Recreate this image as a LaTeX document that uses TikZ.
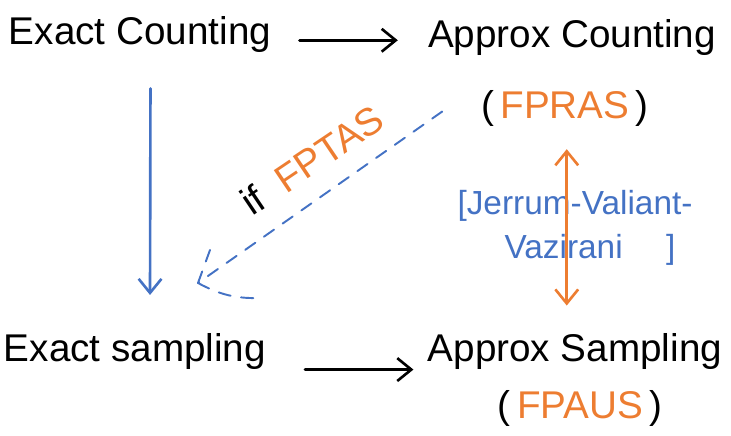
\documentclass[tikz,border=0pt]{standalone}
\usepackage{fontspec}
\setmainfont{Liberation Sans}
\usetikzlibrary{arrows.meta}
\definecolor{penorange}{RGB}{237,125,49}
\definecolor{penblue}{RGB}{68,114,196}

\begin{document}
\begin{tikzpicture}[x=0.02cm,y=-0.02cm,
  hand/.style={font=\fontsize{22}{26}\selectfont,inner sep=0pt},
  note/.style={font=\fontsize{19}{23}\selectfont,inner sep=0pt,text=penblue},
  pen/.style={line width=1.5pt,line cap=round,line join=round},
  arr/.style={pen,-{Straight Barb[length=8pt,width=13pt]}},
  dblarr/.style={pen,{Straight Barb[length=8pt,width=13pt]}-{Straight Barb[length=8pt,width=13pt]}},
  dashpen/.style={pen,penblue,line width=1.1pt,dash pattern=on 7pt off 6pt}]
\useasboundingbox (0,0) rectangle (731,436);
\node[hand] (ec) at (140,35) {Exact Counting};
\node[hand] (ac) at (572,38) {Approx Counting};
\node[hand] (fpras) at (565,108) {(\,{\color{penorange}FPRAS}\,)};
\node[hand] (es) at (135,352) {Exact sampling};
\node[hand] (as) at (575,352) {Approx Sampling};
\node[hand] (fpaus) at (580,408) {(\,{\color{penorange}FPAUS}\,)};
\node[hand,rotate=34] (iff) at (312,160) {if\ \ {\color{penorange}FPTAS}};
\node[note] (jv) at (575,206) {[Jerrum-Valiant-};
\node[note] (vz) at (590,250) {Vazirani\hspace{1.3em}]};
\coordinate (dtip) at (198,283);
\draw[arr,shorten <=16pt,shorten >=17pt] ([yshift=-3pt]ec.east) -- ([yshift=-3pt]ec.east -| ac.west);
\draw[arr,shorten <=22pt,shorten >=8pt] ([yshift=-10pt]es.east) -- ([yshift=-10pt]es.east -| as.west);
\draw[arr,penblue,shorten <=20pt,shorten >=22pt] ([xshift=6pt]ec.south) -- ([xshift=8.5pt]es.north);
\draw[dblarr,penorange,shorten <=13pt,shorten >=16pt] ([xshift=1pt]fpras.south) -- ([xshift=1pt]fpras.south |- as.north);
\draw[dashpen] ([xshift=-22pt,yshift=-2pt]fpras.west) -- (dtip);
\draw[dashpen] (dtip) -- ++(12,-33);
\draw[dashpen] (dtip) to[bend right=15] ++(64,15);
\end{tikzpicture}
\end{document}
